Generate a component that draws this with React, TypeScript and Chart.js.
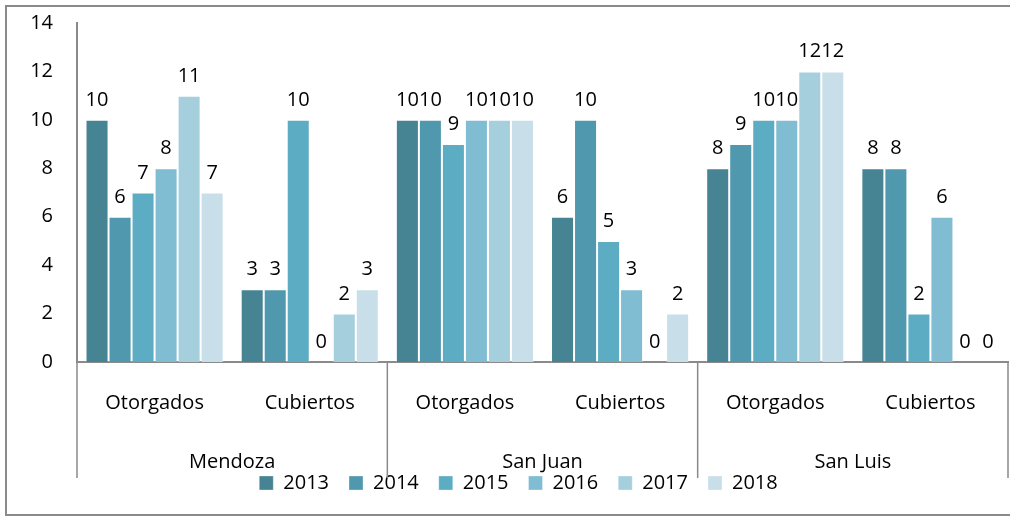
import { useEffect, useRef } from 'react';
import { Chart, registerables } from 'chart.js';

Chart.register(...registerables);

const categories = ['Otorgados', 'Cubiertos', 'Otorgados', 'Cubiertos', 'Otorgados', 'Cubiertos'];
const groups = ['Mendoza', 'San Juan', 'San Luis'];
const years = ['2013', '2014', '2015', '2016', '2017', '2018'];
const values2013 = [10, 3, 10, 6, 8, 8];
const values2014 = [6, 3, 10, 10, 9, 8];
const values2015 = [7, 10, 9, 5, 10, 2];
const values2016 = [8, 0, 10, 3, 10, 6];
const values2017 = [11, 2, 10, 0, 12, 0];
const values2018 = [7, 3, 10, 2, 12, 0];
const seriesValues = [values2013, values2014, values2015, values2016, values2017, values2018];
const seriesColors = ['#468393', '#5098ae', '#5cadc4', '#80bdd2', '#a6cfde', '#c8dfe9'];
const yTicks = [0, 2, 4, 6, 8, 10, 12, 14];

const FONT = "'Open Sans', sans-serif";
const GRAY = '#8a8a8a';

const framePlugin = {
  id: 'frame',
  beforeDraw(chart: any) {
    const { ctx, width, height } = chart;
    ctx.save();
    ctx.fillStyle = '#ffffff';
    ctx.fillRect(0, 0, width, height);
    ctx.strokeStyle = GRAY;
    ctx.lineWidth = 2;
    ctx.strokeRect(6, 6, width + 10, height - 8);
    ctx.restore();
  },
  afterDraw(chart: any) {
    const { ctx, chartArea } = chart;
    const x = chart.scales.x;
    const n = categories.length;
    const bounds = [x.left];
    for (let i = 1; i + 1 < n; i += 2) {
      bounds.push((x.getPixelForValue(i) + x.getPixelForValue(i + 1)) / 2);
    }
    bounds.push(x.right);
    ctx.save();
    ctx.strokeStyle = GRAY;
    ctx.lineWidth = 1.5;
    bounds.forEach((bx) => {
      ctx.beginPath();
      ctx.moveTo(bx, chartArea.bottom);
      ctx.lineTo(bx, chartArea.bottom + 116);
      ctx.stroke();
    });
    // group labels centred under each pair of categories
    ctx.font = `20px ${FONT}`;
    ctx.fillStyle = '#000';
    ctx.textAlign = 'center';
    ctx.textBaseline = 'middle';
    groups.forEach((g, gi) => {
      const cx = (bounds[gi] + bounds[gi + 1]) / 2;
      ctx.fillText(g, cx, chartArea.bottom + 100);
    });
    ctx.restore();
  },
};

const labelPlugin = {
  id: 'valueLabels',
  afterDatasetsDraw(chart: any) {
    const { ctx } = chart;
    ctx.save();
    ctx.font = `20px ${FONT}`;
    ctx.fillStyle = '#000';
    ctx.textAlign = 'center';
    ctx.textBaseline = 'alphabetic';
    chart.data.datasets.forEach((ds: any, di: number) => {
      const meta = chart.getDatasetMeta(di);
      meta.data.forEach((el: any, i: number) => {
        ctx.fillText(String(ds.data[i]), el.x, el.y - 14);
      });
    });
    ctx.restore();
  },
};

export default function App() {
  const ref = useRef<HTMLCanvasElement>(null);
  useEffect(() => {
    const chart = new Chart(ref.current as HTMLCanvasElement, {
      type: 'bar',
      data: {
        labels: categories,
        datasets: years.map((y, i) => ({
          label: y,
          data: seriesValues[i],
          backgroundColor: seriesColors[i],
          borderColor: 'rgba(255,255,255,0.3)',
          borderWidth: 1,
          borderSkipped: 'bottom',
          categoryPercentage: 0.89,
          barPercentage: 1,
        })),
      },
      options: {
        responsive: false,
        animation: false,
        devicePixelRatio: 1,
        layout: { padding: { left: 29, right: 2, top: 23, bottom: 14 } },
        plugins: {
          tooltip: { enabled: false },
          legend: {
            position: 'bottom',
            labels: {
              boxWidth: 14,
              boxHeight: 14,
              padding: 20,
              color: '#000',
              font: { family: FONT, size: 20 },
            },
          },
        },
        scales: {
          y: {
            min: 0,
            max: 14,
            afterBuildTicks: (scale: any) => {
              scale.ticks = yTicks.map((v) => ({ value: v }));
            },
            afterFit: (scale: any) => {
              scale.width = 48;
              scale.paddingTop = 0;
              scale.paddingBottom = 0;
            },
            grid: { display: false, drawTicks: false },
            border: { display: true, color: GRAY, width: 2 },
            ticks: { color: '#000', padding: 24, font: { family: FONT, size: 20 } },
          },
          x: {
            grid: { display: false, drawTicks: false },
            border: { display: true, color: GRAY, width: 2 },
            ticks: { color: '#000', padding: 29, font: { family: FONT, size: 20 }, autoSkip: false, maxRotation: 0 },
            afterFit: (scale: any) => {
              scale.height = 91;
            },
          },
        },
      },
      plugins: [framePlugin, labelPlugin],
    } as any);
    return () => chart.destroy();
  }, []);
  return (
    <div style={{ position: 'absolute', left: 0, top: 0, width: 1010, height: 517, background: '#fff' }}>
      <canvas ref={ref} width={1010} height={517} style={{ display: 'block' }} />
    </div>
  );
}
